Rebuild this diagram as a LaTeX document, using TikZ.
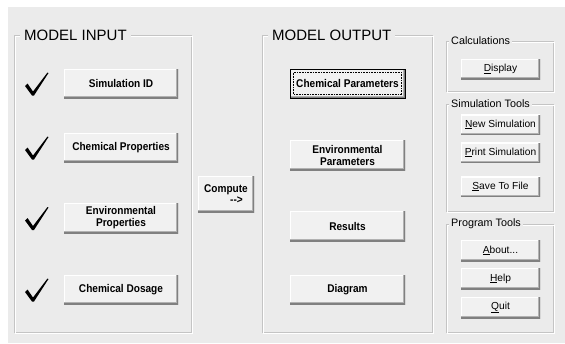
\documentclass[tikz,border=0pt]{standalone}
\usepackage{fontspec}
\setmainfont{Liberation Sans}
\newfontfamily\btnfont[FakeStretch=0.9]{Liberation Sans}
\usepackage{xcolor}
\definecolor{winbg}{RGB}{235,235,235}
\definecolor{btnface}{RGB}{241,241,241}
\definecolor{btnshade}{RGB}{178,178,178}
\definecolor{btndark}{RGB}{128,128,128}
\definecolor{etchgray}{RGB}{196,196,196}
\usepackage{tikz}
\usetikzlibrary{calc}

\begin{document}
\begin{tikzpicture}[x=1pt, y=-1pt,
    btn/.style={fill=btnface, inner sep=0pt, align=center,
      font=\btnfont\bfseries\fontsize{11.2}{12}\selectfont,
      path picture={
        \draw[white, line width=2pt] (path picture bounding box.south west) -- (path picture bounding box.north west) -- (path picture bounding box.north east);
        \draw[btnshade, line width=4pt] (path picture bounding box.south west) -- (path picture bounding box.south east) -- (path picture bounding box.north east);
        \draw[btndark, line width=2pt] (path picture bounding box.south west) -- (path picture bounding box.south east) -- (path picture bounding box.north east);
      }},
    smallbtn/.style={btn, minimum width=79, minimum height=20, font=\fontsize{10.2}{12}\selectfont},
    defbtn/.style={btn, draw=black, line width=1pt},
    grouptitle/.style={fill=winbg, inner xsep=4pt, inner ysep=1pt, anchor=west, font=\fontsize{15}{15}\selectfont},
    smalltitle/.style={grouptitle, inner xsep=2pt, font=\fontsize{10.8}{12}\selectfont},
    checkmk/.pic={\fill (-8,-9) -- (-5.5,-11.5) -- (0,-3.5) -- (14.5,-22.5) -- (15.5,-22) -- (1,0.5) -- (-1,0.5) -- cycle;}]
    \useasboundingbox (0,0) rectangle (565,343);
    \fill[white] (0,0) rectangle (565,343);
    \fill[winbg] (8,7) rectangle (565,343);

    % group frames
    \foreach \xa/\ya/\xb/\yb in {14/35/191/332, 262/35/432/332, 446/41/553/91, 446/104/553/211, 446/224/553/332} {
        \draw[etchgray] (\xa,\ya) rectangle (\xb,\yb);
        \draw[white] (\xa+1,\ya+1) rectangle (\xb+1,\yb+1);
    }
    \node[grouptitle] (intitle) at (20,35.5) {MODEL INPUT};
    \node[grouptitle] (outtitle) at (268,35.5) {MODEL OUTPUT};
    \node[smalltitle] (calctitle) at (449,41) {Calculations};
    \node[smalltitle] (simtitle) at (449,104) {Simulation Tools};
    \node[smalltitle] (progtitle) at (449,224) {Program Tools};

    % model input
    \node[btn, minimum width=114, minimum height=29] (simid) at (121,83.5) {Simulation ID};
    \node[btn, minimum width=114, minimum height=29] (chemprop) at (121,147.5) {Chemical Properties};
    \node[btn, minimum width=114, minimum height=30] (envprop) at (121,218) {Environmental\\Properties};
    \node[btn, minimum width=114, minimum height=29] (chemdose) at (121,289.5) {Chemical Dosage};
    \foreach \y in {95,159,229.5,301} \pic at (33,\y) {checkmk};

    \node[btn, minimum width=56, minimum height=36] (compute) at (226,194) {Compute\\[-1pt]\hspace*{21pt}-{}-{}>};

    % model output
    \node[defbtn, minimum width=115, minimum height=29] (chempar) at (347.5,83.5) {Chemical Parameters};
    \draw[densely dotted, line width=0.6pt] ($(chempar.north west)+(4,4)$) rectangle ($(chempar.south east)+(-4,-4)$);
    \node[btn, minimum width=115, minimum height=30] (envpar) at (347.5,155) {Environmental\\Parameters};
    \node[btn, minimum width=115, minimum height=30] (results) at (347.5,226) {Results};
    \node[btn, minimum width=115, minimum height=29] (diagram) at (347.5,289.5) {Diagram};

    % tools
    \node[smallbtn] (display) at (500.5,69) {\underline{D}isplay};
    \node[smallbtn] (newsim) at (500.5,124.5) {\underline{N}ew Simulation};
    \node[smallbtn] (printsim) at (500.5,152.5) {\underline{P}rint Simulation};
    \node[smallbtn] (savefile) at (500.5,186.5) {\underline{S}ave To File};
    \node[smallbtn, minimum height=21] (about) at (500.5,250.5) {\underline{A}bout...};
    \node[smallbtn, minimum height=21] (help) at (500.5,278.5) {\underline{H}elp};
    \node[smallbtn, minimum height=21] (quit) at (500.5,307.5) {\underline{Q}uit};
\end{tikzpicture}
\end{document}
